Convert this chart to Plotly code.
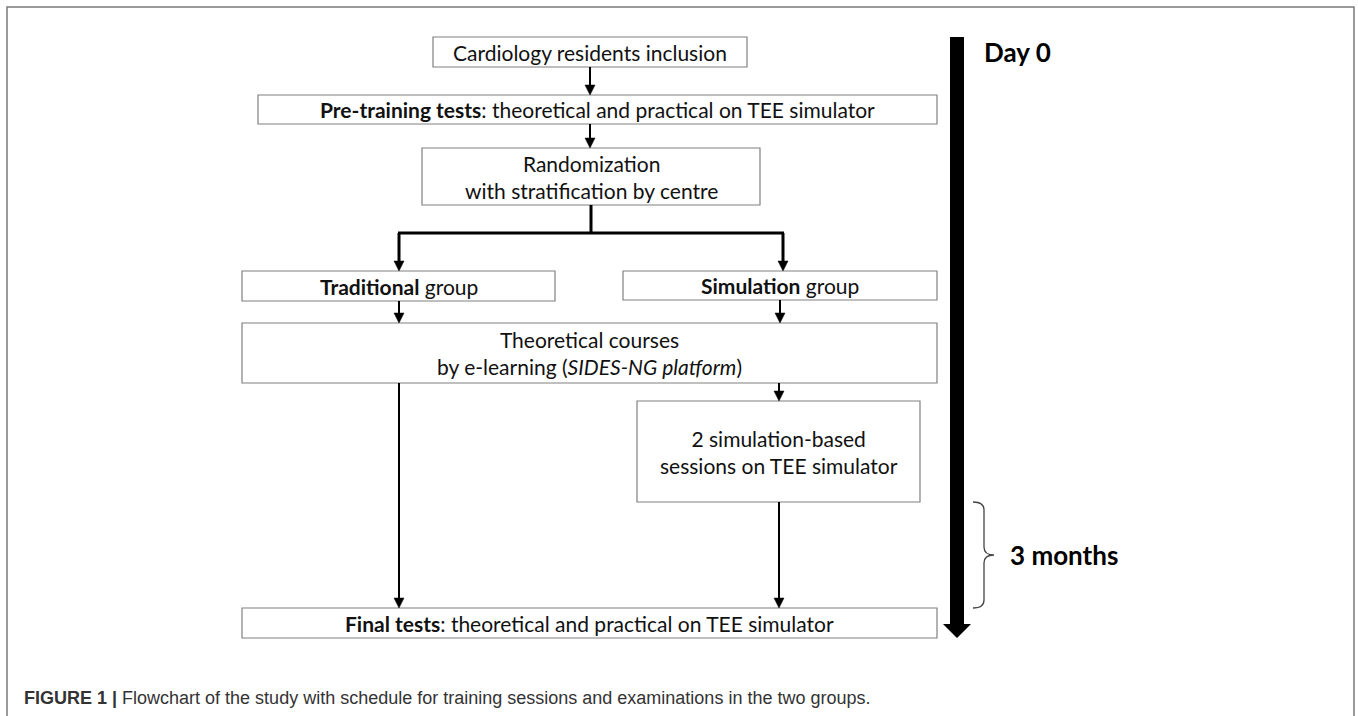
import plotly.graph_objects as go

W, H = 1358, 716

# ---- diagram content ----
box_labels = [
    "Cardiology residents inclusion",
    "<b>Pre-training tests</b>: theoretical and practical on TEE simulator",
    "Randomization<br>with stratification by centre",
    "<b>Traditional</b> group",
    "<b>Simulation</b> group",
    "Theoretical courses<br>by e-learning (<i>SIDES-NG platform</i>)",
    "2 simulation-based<br>sessions on TEE simulator",
    "<b>Final tests</b>: theoretical and practical on TEE simulator",
]
# box geometry (pixel layout): left, right, top, bottom
box_x0 = [433, 258, 422, 242, 623, 242, 637, 242]
box_x1 = [747, 937, 760, 555, 937, 937, 920, 937]
box_y0 = [37, 95, 148, 271, 271, 323, 401, 608]
box_y1 = [67, 124, 205, 301, 300, 383, 502, 638]

# arrows: x, y_start, y_end
arrow_x = [590, 590, 399, 783, 399, 780, 779, 399, 779]
arrow_y0 = [67, 124, 233, 233, 301, 300, 383, 383, 502]
arrow_y1 = [95, 148, 271, 271, 323, 323, 401, 608, 608]
arrow_w = [2, 2, 3, 3, 2, 2, 2, 2, 2]

timeline_labels = ["Day 0", "3 months"]
caption = ("<b>FIGURE 1 |</b> Flowchart of the study with schedule for training "
           "sessions and examinations in the two groups.")

fig = go.Figure()
shapes = []
annotations = []

# outer frame (open at bottom)
shapes.append(dict(type="path", path="M 7 720 L 7 7 L 1354 7 L 1354 720",
                   line=dict(color="#7a7a7a", width=1.5)))

box_font = dict(family="Lato, Open Sans, sans-serif", size=21, color="#111111")
for lab, x0, x1, y0, y1 in zip(box_labels, box_x0, box_x1, box_y0, box_y1):
    shapes.append(dict(type="rect", x0=x0, x1=x1, y0=y0, y1=y1,
                       line=dict(color="#808080", width=1.2), fillcolor="white"))
    annotations.append(dict(x=(x0 + x1) / 2, y=(y0 + y1) / 2, text=lab,
                            showarrow=False, font=box_font, align="center",
                            xanchor="center", yanchor="middle"))

# connector from randomization box to split bar
shapes.append(dict(type="line", x0=591, x1=591, y0=205, y1=234,
                   line=dict(color="black", width=3)))
shapes.append(dict(type="line", x0=398, x1=784, y0=233, y1=233,
                   line=dict(color="black", width=3)))

# arrows
for x, ya, yb, lw in zip(arrow_x, arrow_y0, arrow_y1, arrow_w):
    hl = 10
    hw = 5
    shapes.append(dict(type="line", x0=x, x1=x, y0=ya, y1=yb - hl + 1,
                       line=dict(color="black", width=lw)))
    shapes.append(dict(type="path",
                       path=f"M {x-hw} {yb-hl} L {x+hw} {yb-hl} L {x} {yb} Z",
                       fillcolor="black", line=dict(color="black", width=0.5)))

# big timeline arrow
shapes.append(dict(type="path",
                   path="M 950 37 L 964 37 L 964 624 L 971 624 L 957 638 L 943 624 L 950 624 Z",
                   fillcolor="black", line=dict(color="black", width=0)))

# brace
shapes.append(dict(type="path",
                   path=("M 973 502 Q 984 502 984 510 L 984 547 Q 984 555 994 555 "
                         "Q 984 555 984 563 L 984 600 Q 984 608 973 608"),
                   line=dict(color="#444444", width=1.3)))

tl_font = dict(family="Lato, Open Sans, sans-serif", size=26, color="black")
annotations.append(dict(x=982, y=52, text=f"<b>{timeline_labels[0]}</b>", showarrow=False,
                        font=tl_font, xanchor="left", yanchor="middle"))
annotations.append(dict(x=1008, y=555, text=f"<b>{timeline_labels[1]}</b>", showarrow=False,
                        font=tl_font, xanchor="left", yanchor="middle"))

annotations.append(dict(x=22, y=698, text=caption, showarrow=False,
                        font=dict(family="Liberation Sans, Arial, sans-serif", size=18,
                                  color="#333333"),
                        xanchor="left", yanchor="middle"))

fig.update_layout(
    width=W, height=H, autosize=False,
    margin=dict(l=0, r=0, t=0, b=0),
    paper_bgcolor="white", plot_bgcolor="white",
    xaxis=dict(range=[0, W], visible=False, fixedrange=True),
    yaxis=dict(range=[H, 0], visible=False, fixedrange=True),
    shapes=shapes, annotations=annotations, showlegend=False,
)

fig.write_html("out.html", config={"displayModeBar": False},
               post_script="document.body.style.margin='0';")
